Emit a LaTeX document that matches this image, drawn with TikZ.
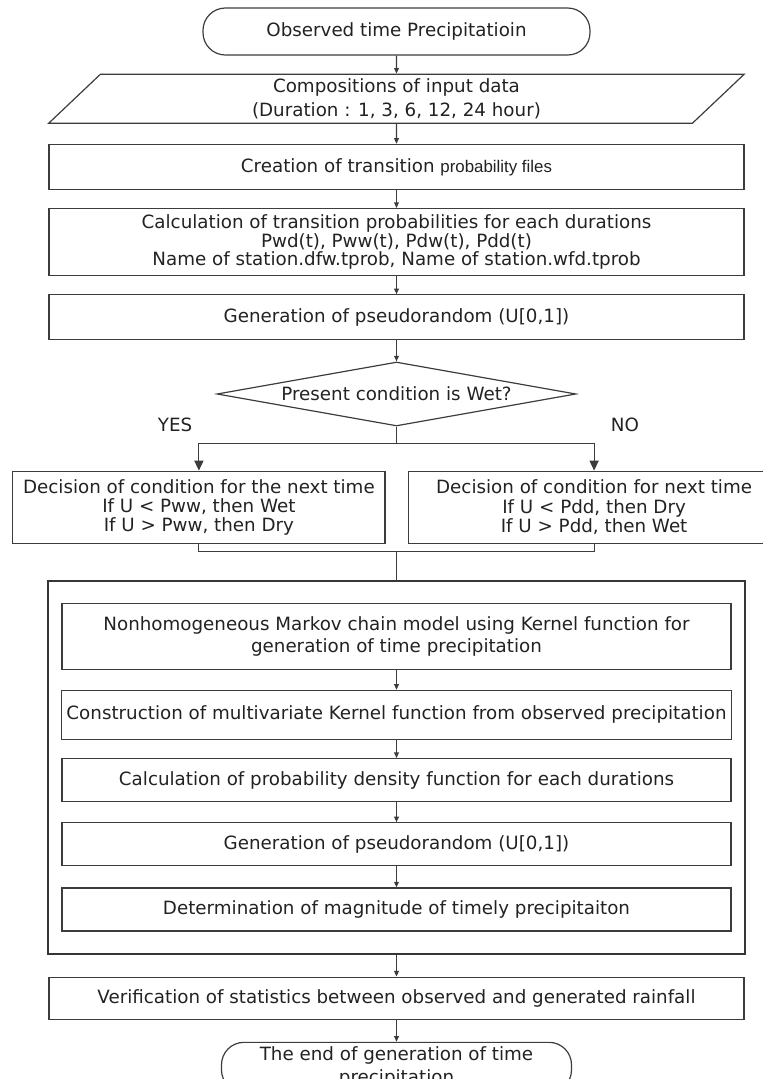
\documentclass[tikz,border=0pt]{standalone}
\usepackage{fontspec}
\setmainfont{DejaVu Sans}
\newfontfamily\arialfont{Liberation Sans}
\usetikzlibrary{positioning, arrows.meta, shapes.geometric, fit}
\definecolor{edge}{HTML}{3C3C3C}
\definecolor{ink}{HTML}{222222}

\begin{document}
\begin{tikzpicture}[
    node distance=0.525cm,
    every node/.style={text=ink},
    box/.style={draw=edge, line width=0.85pt, minimum width=17.375cm, align=center, font=\fontsize{13}{13.4}\selectfont},
    inbox/.style={box, minimum width=16.725cm},
    dbox/.style={box, minimum width=9.3cm, minimum height=1.8cm, font=\fontsize{13}{13.6}\selectfont},
    bigbox/.style={draw=edge!90!black, line width=1.4pt},
    term/.style={draw=edge, line width=0.85pt, rounded corners=0.56cm, align=center, font=\fontsize{13}{13.4}\selectfont},
    para/.style={draw=edge, line width=0.85pt, trapezium, trapezium left angle=62, trapezium right angle=118, trapezium stretches=true, minimum width=17.45cm, minimum height=1.15cm, align=center, font=\fontsize{13}{13.6}\selectfont},
    cond/.style={draw=edge, line width=0.85pt, diamond, aspect=5.6, inner sep=0pt, minimum width=8.975cm, minimum height=1.6cm, font=\fontsize{13}{13.4}\selectfont},
    lbl/.style={font=\fontsize{13}{13.4}\selectfont},
    line/.style={draw=edge, line width=0.85pt},
    arr/.style={line, -{Triangle[length=1.4mm, width=1.2mm]}},
    bigarr/.style={line, -{Triangle[length=2.5mm, width=2.3mm]}}
]
\useasboundingbox (0,0) rectangle (19.075,-26.975);

\node[term, minimum width=9.675cm, minimum height=1.175cm] (start) at (9.9125,-0.7875) {Observed time Precipitatioin};
\node[para, below=0.45cm of start] (input) {Compositions of input data\\[3pt](Duration : 1, 3, 6, 12, 24 hour)};
\node[box, minimum height=1.125cm, below=0.5cm of input] (files) {Creation of transition {\arialfont\fontsize{12}{13}\selectfont probability files}};
\node[box, minimum height=1.675cm, below=0.45cm of files] (tprob) {Calculation of transition probabilities for each durations\\Pwd(t), Pww(t), Pdw(t), Pdd(t)\\Name of station.dfw.tprob, Name of station.wfd.tprob};
\node[box, minimum height=1.125cm, below=0.45cm of tprob] (rand) {Generation of pseudorandom (U[0,1])};
\node[cond, below=0.525cm of rand] (wet) {Present condition is Wet?};

% yes / no branches
\coordinate[below=0.425cm of wet.south] (split);
\node[lbl] (yes) at ([xshift=-5.5375cm, yshift=0.05cm] wet.south) {YES};
\node[lbl] (no) at ([xshift=5.7125cm, yshift=0.05cm] wet.south) {NO};
\node[dbox, below=1.1cm of wet.south, xshift=-4.94cm] (ifwet) {Decision of condition for the next time\\If U < Pww, then Wet\\If U > Pww, then Dry};
\node[dbox, below=1.1cm of wet.south, xshift=4.94cm] (ifdry) {Decision of condition for next time\\If U < Pdd, then Dry\\If U > Pdd, then Wet};

% kernel model block
\node[inbox, minimum height=1.65cm, below=4.4cm of wet] (kernel) {Nonhomogeneous Markov chain model using Kernel function for\\[2pt]generation of time precipitation};
\node[inbox, minimum height=1.225cm, below=0.5cm of kernel] (multi) {Construction of multivariate Kernel function from observed precipitation};
\node[inbox, minimum height=1.075cm, below=0.45cm of multi] (pdf) {Calculation of probability density function for each durations};
\node[inbox, minimum height=1.075cm, below=0.5cm of pdf] (rand2) {Generation of pseudorandom (U[0,1])};
\node[inbox, minimum height=1.075cm, below=0.525cm of rand2] (magn) {Determination of magnitude of timely precipitaiton};
\node[bigbox, fit=(kernel)(magn), inner xsep=0.325cm, inner ysep=0.55cm] (model) {};
\coordinate[above=0.7cm of model.north] (join);

\node[box, minimum height=1.05cm, below=0.55cm of model] (verify) {Verification of statistics between observed and generated rainfall};
\node[term, minimum width=8.75cm, minimum height=1.25cm, inner ysep=3pt, below=0.55cm of verify] (stop) {The end of generation of time\\[3pt]precipitation};

\draw[arr] (start) -- (input);
\draw[arr] (input) -- (files);
\draw[arr] (files) -- (tprob);
\draw[arr] (tprob) -- (rand);
\draw[arr] (rand) -- (wet);
\draw[line] (wet) -- (split);
\draw[bigarr] (split) -| (ifwet);
\draw[bigarr] (split) -| (ifdry);
\draw[line] (ifwet) |- (join) -| (ifdry);
\draw[line] (join) -- (model);
\draw[arr] (kernel) -- (multi);
\draw[arr] (multi) -- (pdf);
\draw[arr] (pdf) -- (rand2);
\draw[arr] (rand2) -- (magn);
\draw[arr] (model) -- (verify);
\draw[arr] (verify) -- (stop);
\end{tikzpicture}
\end{document}
